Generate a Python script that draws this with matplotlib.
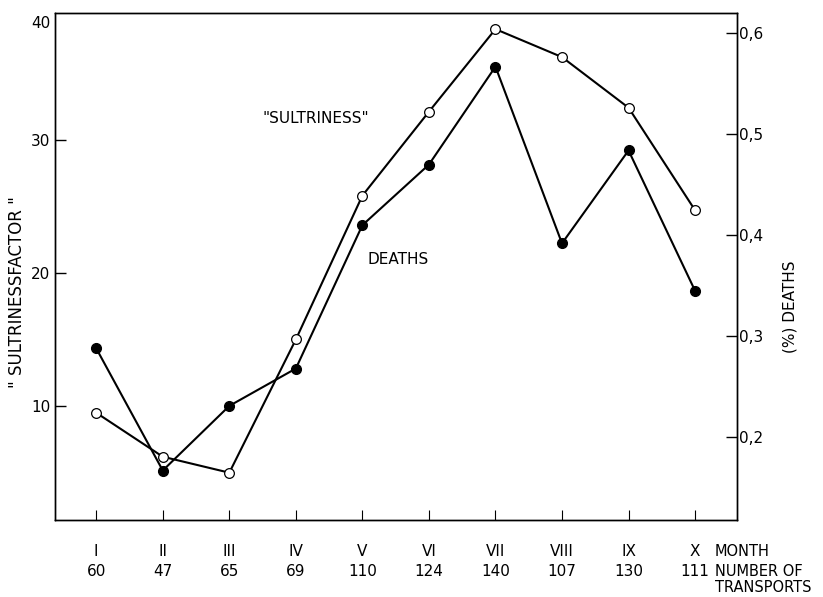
import matplotlib.pyplot as plt

# datos
meses = ["I", "II", "III", "IV", "V", "VI", "VII", "VIII", "IX", "X"]
transportes = [60, 47, 65, 69, 110, 124, 140, 107, 130, 111]
sultriness = [9.5, 6.2, 5.0, 15.0, 25.8, 32.1, 38.3, 36.2, 32.4, 24.7]
muertes = [0.288, 0.167, 0.231, 0.268, 0.410, 0.470, 0.567, 0.392, 0.484, 0.345]

plt.rcParams["font.family"] = ["DejaVu Sans"]
plt.rcParams["font.size"] = 11

x = list(range(1, len(meses) + 1))

fig = plt.figure(figsize=(8.23, 5.97), dpi=100)
ax = fig.add_axes([0.0668, 0.129, 0.8287, 0.849])
ax2 = ax.twinx()

# curva "sultriness" (circulos abiertos)
ax.plot(x, sultriness, color="black", lw=1.5, marker="o", ms=7,
        mfc="white", mec="black", mew=0.9, zorder=3)
# curva de muertes (puntos rellenos)
ax2.plot(x, muertes, color="black", lw=1.5, marker="o", ms=7,
         mfc="black", mec="black", zorder=3)

ax.set_xlim(0.38, 10.63)
ax.set_ylim(1.45, 39.5)
ax2.set_ylim(0.118, 0.62)

ax.set_yticks([10, 20, 30])
ax.text(-0.007, 0.98, "40", transform=ax.transAxes, ha="right", va="center")
ax2.set_yticks([0.2, 0.3, 0.4, 0.5, 0.6])
ax2.set_yticklabels(["0,2", "0,3", "0,4", "0,5", "0,6"])

ax.set_xticks(x)
ax.set_xticklabels([f"{m}\n{n}" for m, n in zip(meses, transportes)],
                   linespacing=1.36)

ax.tick_params(axis="y", direction="in", length=8, width=1, pad=3.5)
ax.tick_params(axis="x", direction="in", length=7, width=0.8, pad=17.5)
ax2.tick_params(axis="y", direction="in", length=8, width=1, pad=1.5)

for a in (ax, ax2):
    for s in a.spines.values():
        s.set_linewidth(1.0)

# textos a la derecha de las filas del eje x
ax.annotate("MONTH", xy=(10.3, 0), xycoords=("data", "axes fraction"),
            xytext=(0, -17.5), textcoords="offset points", ha="left", va="top",
            fontsize=10.5)
ax.annotate("NUMBER OF\nTRANSPORTS", xy=(10.3, 0),
            xycoords=("data", "axes fraction"), xytext=(0, -31.9),
            textcoords="offset points", ha="left", va="top", linespacing=1.1,
            fontsize=10.5)

ax.set_ylabel('" SULTRINESSFACTOR "', fontsize=12)
ax.yaxis.set_label_coords(-0.042, 0.45)
ax2.set_ylabel("(%) DEATHS")
ax2.yaxis.set_label_coords(1.067, 0.42)

# etiquetas dentro del grafico
ax.text(3.5, 31.6, '"SULTRINESS"', ha="left", va="center")
ax.text(5.08, 21.0, "DEATHS", ha="left", va="center")

plt.savefig("out.png", dpi=100)
